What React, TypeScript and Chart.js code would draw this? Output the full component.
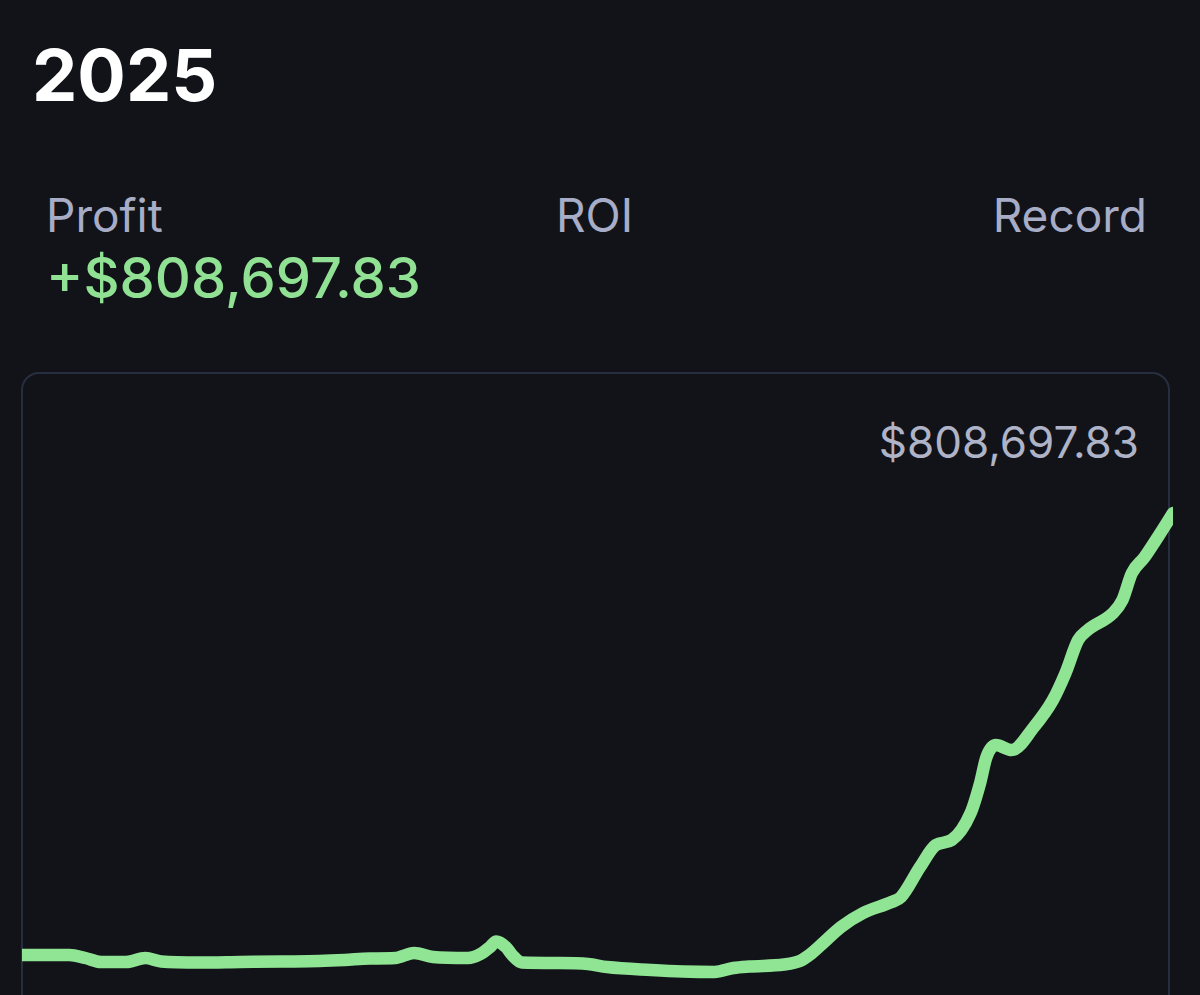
import React, { useEffect, useRef } from "react";
import { Chart, registerables } from "chart.js";

Chart.register(...registerables);

const title = "2025";
const headerLabels = ["Profit", "ROI", "Record"];
const profitText = "+$808,697.83";
const recordValueText = "$808,697.83";

// day of year
const days = [
  0, 15, 20, 25, 33, 39, 44, 56, 69, 82, 94, 102, 110, 118, 124, 130, 141, 145, 148, 150,
  153, 155, 158, 170, 179, 185, 199, 209, 219, 225, 230, 241, 246, 249, 253, 259, 266, 275,
  278, 284, 289, 294, 300, 303, 305, 308, 313, 320, 326, 330, 334, 337, 345, 348, 351, 355,
  360, 364,
];
// cumulative profit (USD)
const profit = [
  0, 0, -5500, -12800, -12800, -5500, -11900, -13700, -12800, -11900, -11000, -9150, -6400,
  -5500, 3660, -3660, -5500, 1830, 14630, 24700, 14630, 0, -13700, -14630, -16460, -21950,
  -27440, -30180, -31090, -23780, -21030, -17380, -10970, 0, 20120, 51210, 76820, 96940,
  106080, 160950, 201190, 210340, 259720, 314590, 362140, 384090, 374950, 417010, 466400,
  515780, 576140, 594430, 625520, 649300, 698680, 727940, 771840, 808698,
];

const BG = "#121319";
const GREEN_LINE = "#8fe594";
const GREEN_TEXT = "#90e193";
const GREY = "#a7adc6";
const FONT = "Inter, 'Noto Sans', sans-serif";

function Txt(props: {
  text: string;
  size: number;
  baseline: number;
  left?: number;
  right?: number;
  color: string;
  weight?: number;
}) {
  const { text, size, baseline, left, right, color, weight } = props;
  const style: React.CSSProperties = {
    position: "absolute",
    top: baseline - 0.864 * size,
    fontFamily: FONT,
    fontSize: size,
    lineHeight: 1,
    fontWeight: weight ?? 400,
    color,
    whiteSpace: "nowrap",
    letterSpacing: 0,
  };
  if (left !== undefined) style.left = left;
  if (right !== undefined) style.right = 1200 - right;
  return <div style={style}>{text}</div>;
}

export default function App() {
  const ref = useRef<HTMLCanvasElement | null>(null);

  useEffect(() => {
    document.body.style.margin = "0";
    document.body.style.background = BG;
    const canvas = ref.current;
    if (!canvas) return;
    const chart = new Chart(canvas, {
      type: "line",
      data: {
        datasets: [
          {
            data: days.map((d, i) => ({ x: d, y: profit[i] })),
            borderColor: GREEN_LINE,
            borderWidth: 12.5,
            pointRadius: 0,
            tension: 0.4,
            cubicInterpolationMode: "monotone",
            borderCapStyle: "round",
            borderJoinStyle: "round",
            fill: false,
          },
        ],
      },
      options: {
        animation: false,
        responsive: false,
        devicePixelRatio: 1,
        layout: { padding: 0 },
        plugins: { legend: { display: false }, tooltip: { enabled: false } },
        scales: {
          x: { type: "linear", min: 0, max: 364, display: false },
          y: { type: "linear", min: -73160, max: 832475, display: false },
        },
      },
    });
    return () => chart.destroy();
  }, []);

  return (
    <div
      style={{
        position: "fixed",
        left: 0,
        top: 0,
        width: 1200,
        height: 995,
        background: BG,
        overflow: "hidden",
      }}
    >
      <Txt text={title} size={72} baseline={101} left={32} color="#ffffff" weight={700} />
      <Txt text={headerLabels[0]} size={46} baseline={232} left={46} color={GREY} />
      <Txt text={headerLabels[1]} size={46} baseline={232} left={556} color={GREY} />
      <Txt text={headerLabels[2]} size={46} baseline={232} right={1147} color={GREY} />
      <Txt text={profitText} size={56} baseline={298} left={46} color={GREEN_TEXT} weight={500} />
      <div
        style={{
          position: "absolute",
          left: 21,
          top: 372,
          width: 1149,
          height: 800,
          border: "2px solid #272e3f",
          borderRadius: 18,
          boxSizing: "border-box",
          background: "#121318",
        }}
      />
      <Txt text={recordValueText} size={44} baseline={458} right={1139} color="#aeb3c7" />
      <canvas
        ref={ref}
        width={1151}
        height={495}
        style={{ position: "absolute", left: 22, top: 500, width: 1151, height: 495 }}
      />
    </div>
  );
}
